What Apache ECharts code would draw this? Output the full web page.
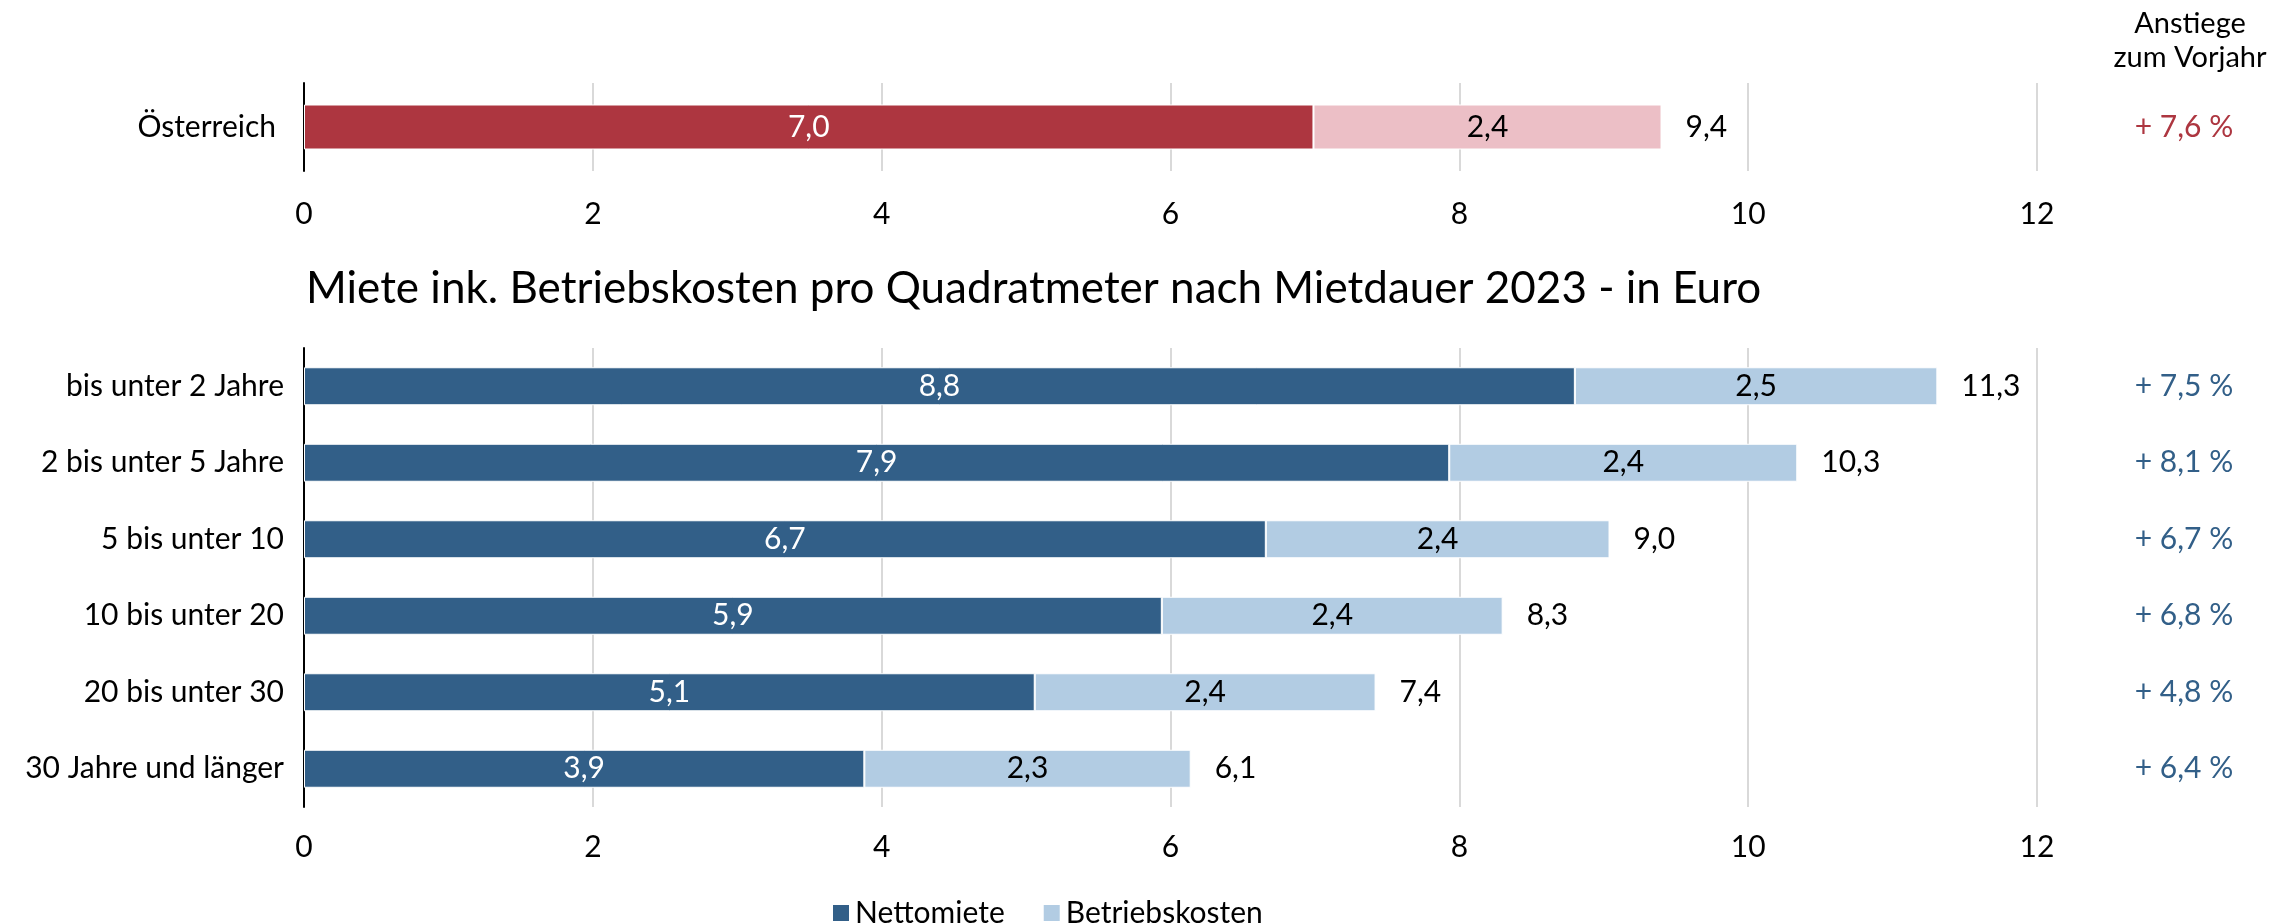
<!DOCTYPE html>
<html>
<head>
<meta charset="utf-8">
<script src="https://cdn.jsdelivr.net/npm/echarts@6/dist/echarts.min.js"></script>
<style>
  html, body { margin: 0; padding: 0; background: #fff; }
  #chart { width: 2292px; height: 924px; }
</style>
</head>
<body>
<div id="chart"></div>
<script>
// Österreich gesamt
const atCategory = ['Österreich'];
const atNetto = [6.99];
const atBetrieb = [2.41];
const atGrowth = [7.6];

// nach Mietdauer
const categories = ['bis unter 2 Jahre', '2 bis unter 5 Jahre', '5 bis unter 10', '10 bis unter 20', '20 bis unter 30', '30 Jahre und länger'];
const netto = [8.80, 7.93, 6.66, 5.94, 5.06, 3.88];
const betrieb = [2.51, 2.41, 2.38, 2.36, 2.36, 2.26];
const growth = [7.5, 8.1, 6.7, 6.8, 4.8, 6.4];

const xTicks = { min: 0, max: 12, interval: 2 };

const FONT = 'Lato';
const FS = 30;
const darkBlue = '#325f88';
const lightBlue = '#b2cce3';
const red = '#ad3640';
const pink = '#ecbfc6';

const fmt = (v) => v.toFixed(1).replace('.', ',');
const fmtGrowth = (v) => '+ ' + fmt(v) + ' %';
const sum = (a, b) => a.map((v, i) => +(v + b[i]).toFixed(2));

const chart = echarts.init(document.getElementById('chart'));

const xAxisBase = (gridIndex, margin) => ({
    type: 'value', gridIndex, min: xTicks.min, max: xTicks.max, interval: xTicks.interval,
    axisLine: { show: false }, axisTick: { show: false },
    axisLabel: { fontFamily: FONT, fontSize: FS, color: '#000', margin },
    splitLine: { lineStyle: { color: '#d9d9d9', width: 2 } }
});

const segLabel = (color) => ({
    show: true, position: 'inside', color, fontFamily: FONT, fontSize: FS,
    formatter: (p) => fmt(p.value)
});

const totalSeries = (name, data, xi, yi, width) => ({
    name, type: 'bar', xAxisIndex: xi, yAxisIndex: yi, data, barWidth: width, barGap: '-100%', z: 1,
    itemStyle: { color: 'rgba(0,0,0,0)' },
    label: { show: true, position: 'right', distance: 24, color: '#000', fontFamily: FONT, fontSize: FS, formatter: (p) => fmt(p.value) },
    silent: true
});

chart.setOption({
    animation: false,
    title: [
        { text: 'Miete ink. Betriebskosten pro Quadratmeter nach Mietdauer 2023 - in Euro', left: 301, top: 262,
          textStyle: { fontFamily: FONT, fontSize: 44, fontWeight: 'normal', color: '#000' } },
        { text: 'Anstiege\nzum Vorjahr', left: 2185, top: 2, textAlign: 'center',
          textStyle: { fontFamily: FONT, fontSize: 29, fontWeight: 'normal', color: '#000', lineHeight: 34 } }
    ],
    legend: {
        data: ['Nettomiete', 'Betriebskosten'], top: 893, left: 826, itemGap: 37,
        icon: 'rect', itemWidth: 18, itemHeight: 18,
        textStyle: { fontFamily: FONT, fontSize: FS, color: '#000' }
    },
    grid: [
        { left: 304, right: 255, top: 83, height: 88 },
        { left: 304, right: 255, top: 348, height: 459 }
    ],
    xAxis: [xAxisBase(0, 28), xAxisBase(1, 25)],
    yAxis: [
        { type: 'category', gridIndex: 0, data: atCategory, inverse: true,
          axisLine: { lineStyle: { color: '#000', width: 2 } }, axisTick: { show: false },
          axisLabel: { fontFamily: FONT, fontSize: FS, color: '#000', margin: 28 } },
        { type: 'category', gridIndex: 0, data: atGrowth.map(fmtGrowth), inverse: true, position: 'right',
          axisLine: { show: false }, axisTick: { show: false },
          axisLabel: { fontFamily: FONT, fontSize: FS, color: red, align: 'center', margin: 147 } },
        { type: 'category', gridIndex: 1, data: categories, inverse: true,
          axisLine: { lineStyle: { color: '#000', width: 2 } }, axisTick: { show: false },
          axisLabel: { fontFamily: FONT, fontSize: FS, color: '#000', margin: 20 } },
        { type: 'category', gridIndex: 1, data: growth.map(fmtGrowth), inverse: true, position: 'right',
          axisLine: { show: false }, axisTick: { show: false },
          axisLabel: { fontFamily: FONT, fontSize: FS, color: darkBlue, align: 'center', margin: 147 } }
    ],
    series: [
        { name: 'Österreich Nettomiete', type: 'bar', stack: 'at', xAxisIndex: 0, yAxisIndex: 0, data: atNetto, barWidth: 45, z: 2,
          itemStyle: { color: red, borderColor: '#fff', borderWidth: 1 }, label: segLabel('#fff') },
        { name: 'Österreich Betriebskosten', type: 'bar', stack: 'at', xAxisIndex: 0, yAxisIndex: 0, data: atBetrieb, barWidth: 45, z: 2,
          itemStyle: { color: pink, borderColor: '#fff', borderWidth: 1 }, label: segLabel('#000') },
        totalSeries('Österreich Summe', sum(atNetto, atBetrieb), 0, 0, 45),
        { name: 'Nettomiete', type: 'bar', stack: 'md', xAxisIndex: 1, yAxisIndex: 2, data: netto, barWidth: 38, z: 2,
          itemStyle: { color: darkBlue, borderColor: '#fff', borderWidth: 1 }, label: segLabel('#fff') },
        { name: 'Betriebskosten', type: 'bar', stack: 'md', xAxisIndex: 1, yAxisIndex: 2, data: betrieb, barWidth: 38, z: 2,
          itemStyle: { color: lightBlue, borderColor: '#fff', borderWidth: 1 }, label: segLabel('#000') },
        totalSeries('Summe', sum(netto, betrieb), 1, 2, 38)
    ]
});
</script>
</body>
</html>
